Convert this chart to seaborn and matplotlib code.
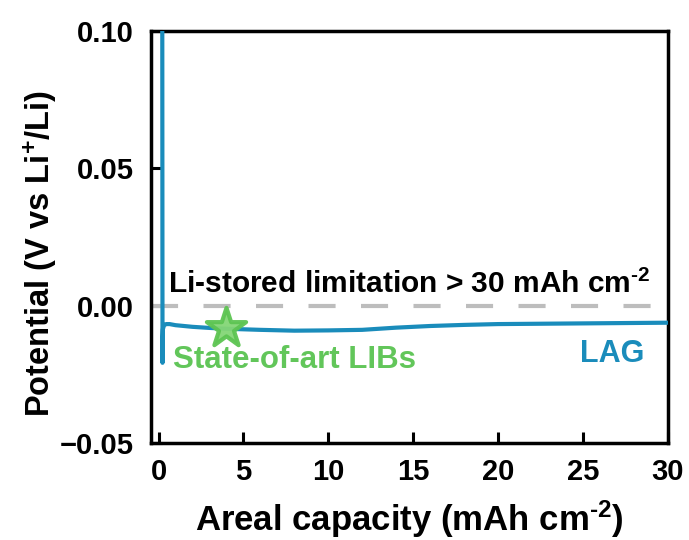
import matplotlib
matplotlib.use("Agg")
import matplotlib.pyplot as plt
import seaborn as sns
import pandas as pd

# Galvanostatic lithium-storage profile of the LAG electrode
capacity = [0.22, 0.23, 0.235, 0.24, 0.26, 0.32, 0.45, 0.65, 1.0, 2.0, 3.0, 4.0,
            6.0, 8.0, 10.0, 12.0, 14.0, 16.0, 18.0, 20.0, 22.0, 24.0, 26.0, 28.0, 30.0]
potential = [0.12, 0.02, -0.0208, -0.012, -0.0085, -0.0072, -0.0067, -0.0067, -0.0071,
             -0.0077, -0.0081, -0.0084, -0.0088, -0.0091, -0.0090, -0.0088, -0.0080,
             -0.0074, -0.0070, -0.0067, -0.0066, -0.0065, -0.0064, -0.0063, -0.0062]

# Reference point for commercial Li-ion batteries
lib_capacity = [4.0]
lib_potential = [-0.0082]

x_ticks = [0, 5, 10, 15, 20, 25, 30]
y_ticks = [-0.05, 0.00, 0.05, 0.10]
y_tick_labels = ["\u22120.05", "0.00", "0.05", "0.10"]

line_color = "#1a8cbb"
star_face = "#84d676"
star_edge = "#5dc452"
text_green = "#62c65a"

sns.set_theme(style="ticks")
plt.rcParams["font.family"] = ["Liberation Sans", "DejaVu Sans"]
plt.rcParams["font.weight"] = "bold"
plt.rcParams["mathtext.fontset"] = "custom"
plt.rcParams["mathtext.rm"] = "Liberation Sans:bold"
plt.rcParams["mathtext.bf"] = "Liberation Sans:bold"
plt.rcParams["mathtext.default"] = "bf"
plt.rcParams["axes.labelcolor"] = "black"

profile = pd.DataFrame({"capacity": capacity, "potential": potential})
lib = pd.DataFrame({"capacity": lib_capacity, "potential": lib_potential})

fig = plt.figure(figsize=(6.89, 5.40), dpi=100)
ax = fig.add_axes([0.219, 0.1796, 0.750, 0.763])

# 0 V reference
ax.axhline(0.0, color="#bdbdbd", lw=3.0, dashes=(6.5, 6.1), zorder=1)

sns.lineplot(data=profile, x="capacity", y="potential", sort=False, estimator=None,
             color=line_color, lw=3.0, ax=ax, zorder=3)

sns.scatterplot(data=lib, x="capacity", y="potential", marker="*", s=880,
                color=star_face, edgecolor=star_edge, linewidth=3.0, alpha=0.95,
                ax=ax, zorder=4)

ax.set_xlim(-0.45, 30)
ax.set_ylim(-0.05, 0.10)
ax.set_xticks(x_ticks)
ax.set_yticks(y_ticks)
ax.set_yticklabels(y_tick_labels)

for side in ["left", "right", "top", "bottom"]:
    ax.spines[side].set_visible(True)
    ax.spines[side].set_linewidth(2.5)
    ax.spines[side].set_color("black")

ax.tick_params(axis="both", direction="in", length=8, width=2.2, labelsize=21,
               colors="black")
ax.tick_params(axis="x", pad=11)
ax.tick_params(axis="y", pad=12)
for lbl in ax.get_xticklabels() + ax.get_yticklabels():
    lbl.set_fontweight("bold")

ax.set_xlabel(r"Areal capacity (mAh cm$^{\text{-}2}$)", fontsize=25,
              fontweight="bold", color="black", labelpad=9)
ax.set_ylabel("Potential (V vs Li$^{+}$/Li)", fontsize=23.5, fontweight="bold",
              color="black")
ax.yaxis.set_label_coords(-0.178, 0.46)

ax.text(14.75, 0.0078, r"Li-stored limitation > 30 mAh cm$^{\text{-}2}$",
        fontsize=21.5, fontweight="bold", color="black", ha="center", va="center")
ax.text(8.0, -0.0197, "State-of-art LIBs", fontsize=22.5, fontweight="bold",
        color=text_green, ha="center", va="center")
ax.text(28.6, -0.0177, "LAG", fontsize=22, fontweight="bold", color=line_color,
        ha="right", va="center")

fig.savefig("out.png", dpi=100)
